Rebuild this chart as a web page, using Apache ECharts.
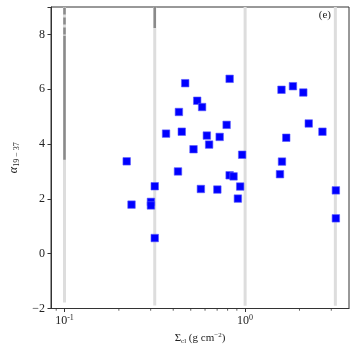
<!DOCTYPE html>
<html>
<head>
<meta charset="utf-8">
<script src="https://cdn.jsdelivr.net/npm/echarts@6/dist/echarts.min.js"></script>
<style>html,body{margin:0;padding:0;background:#fff}#c{width:357px;height:353px}</style>
</head>
<body>
<div id="c"></div>
<script>
// Scatter points: surface density (g cm^-2) and alpha_{19-37}
const sigmaCl = [0.221,0.235,0.301,0.301,0.316,0.316,0.365,0.425,0.430,0.446,0.466,0.518,0.543,0.569,0.578,0.614,0.632,0.702,0.723,0.790,0.821,0.821,0.863,0.912,0.939,0.963,1.56,1.59,1.60,1.69,1.84,2.10,2.25,2.68,3.18,3.18];
const alpha = [3.37,1.79,1.89,1.76,2.46,0.57,4.38,3.00,5.17,4.45,6.22,3.81,5.58,2.36,5.35,4.31,3.98,2.34,4.26,4.70,6.38,2.86,2.82,2.01,2.45,3.61,2.90,5.98,3.36,4.23,6.11,5.88,4.75,4.45,2.31,1.29];

// Light grey vertical reference lines
const refX = [0.1, 0.316, 1, 3.16];
const refBottom = [-1.78, -1.89, -1.9, -1.9];
const refTop = [9, 9, 9, 9];

// Dark grey segments (solid)
const darkX = [0.1, 0.316];
const darkBottom = [3.43, 8.23];
const darkTop = [7.95, 9];
// Dark grey dashed segment
const dashX = [0.1];
const dashBottom = [8.0];
const dashTop = [9];

// Axis ranges / ticks
const xMin = 0.0842, xMax = 3.76;
const yMin = -2, yMax = 9, yStep = 2;
const xMinorTicks = [0.09,0.2,0.3,0.4,0.5,0.6,0.7,0.8,0.9,2,3];

const serif = 'Liberation Serif';
const series = [];
refX.forEach((x,i)=>{
  series.push({type:'line', data:[[x,refBottom[i]],[x,refTop[i]]], symbol:'none', silent:true, z:1,
    lineStyle:{color:'#dddddd', width:3}});
});
darkX.forEach((x,i)=>{
  series.push({type:'line', data:[[x,darkBottom[i]],[x,darkTop[i]]], symbol:'none', silent:true, z:2,
    lineStyle:{color:'#8a8a8a', width:2.5}});
});
dashX.forEach((x,i)=>{
  series.push({type:'line', data:[[x,dashBottom[i]],[x,dashTop[i]]], symbol:'none', silent:true, z:2,
    lineStyle:{color:'#8a8a8a', width:2.5, type:[7,3]}});
});
series.push({type:'custom', clip:false, silent:true, z:5,
  data: xMinorTicks.map(v=>[v, yMin]),
  renderItem:(params, api)=>{
    const p = api.coord([api.value(0), api.value(1)]);
    return {type:'line', shape:{x1:p[0], y1:p[1], x2:p[0], y2:p[1]+2.2}, style:{stroke:'#333', lineWidth:0.8}};
  }
});
series.push({type:'scatter', data: sigmaCl.map((x,i)=>[x, alpha[i]]), symbol:'rect', symbolSize:7.5, z:10,
  itemStyle:{color:'#0000ff', borderColor:'#5a5aff', borderWidth:0.6, opacity:1}});

const chart = echarts.init(document.getElementById('c'), null, {renderer:'canvas'});
chart.setOption({
  animation:false,
  backgroundColor:'#fff',
  grid:{left:49, right:8, top:7, bottom:44.5, show:true, borderColor:'#333', borderWidth:1, backgroundColor:'transparent'},
  xAxis:{type:'log', logBase:10, min:xMin, max:xMax,
    name:'{s|Σ}{sub|cl}{s| (g cm}{sup|−2}{s|)}', nameLocation:'middle', nameGap:21,
    nameTextStyle:{rich:{s:{fontFamily:serif, fontSize:11, color:'#222'}, sub:{fontFamily:serif, fontSize:7, color:'#222', padding:[5,0,0,0]}, sup:{fontFamily:serif, fontSize:7, color:'#222', padding:[0,0,6,0]}}},
    axisLine:{show:true, onZero:false, lineStyle:{color:'#333', width:1}},
    axisTick:{show:true, length:3.5, lineStyle:{color:'#333'}},
    minorTick:{show:false},
    splitLine:{show:false},
    axisLabel:{margin:5, showMinLabel:false, showMaxLabel:false,
      formatter:(v)=>{const l=Math.log10(v), e=Math.round(l); if(Math.abs(l-e)>1e-6) return ''; return '{b|10}{sup|'+(e<0?'-':'')+Math.abs(e)+'}';},
      rich:{b:{fontFamily:serif, fontSize:12, color:'#222'}, sup:{fontFamily:serif, fontSize:8, color:'#222', padding:[0,0,7,0]}}}
  },
  yAxis:{type:'value', min:yMin, max:yMax, interval:yStep,
    name:'{a|α}{sub|19 − 37}', nameLocation:'middle', nameGap:30, nameRotate:90,
    nameTextStyle:{rich:{a:{fontFamily:serif, fontStyle:'italic', fontSize:12, color:'#222'}, sub:{fontFamily:serif, fontSize:8, color:'#222', padding:[6,0,0,0]}}},
    axisLine:{show:true, onZero:false, lineStyle:{color:'#333', width:1}},
    axisTick:{show:true, length:3.5, lineStyle:{color:'#333'}},
    splitLine:{show:false},
    axisLabel:{margin:6, fontFamily:serif, fontSize:12, color:'#222',
      formatter:(v)=> v>yMax-1 ? '' : (v<0 ? '\u2212'+(-v) : String(v))}
  },
  graphic:[{type:'text', right:26, top:10, style:{text:'(e)', font:'11px "Liberation Serif"', fill:'#222'}}],
  series: series
});
</script>
</body>
</html>
